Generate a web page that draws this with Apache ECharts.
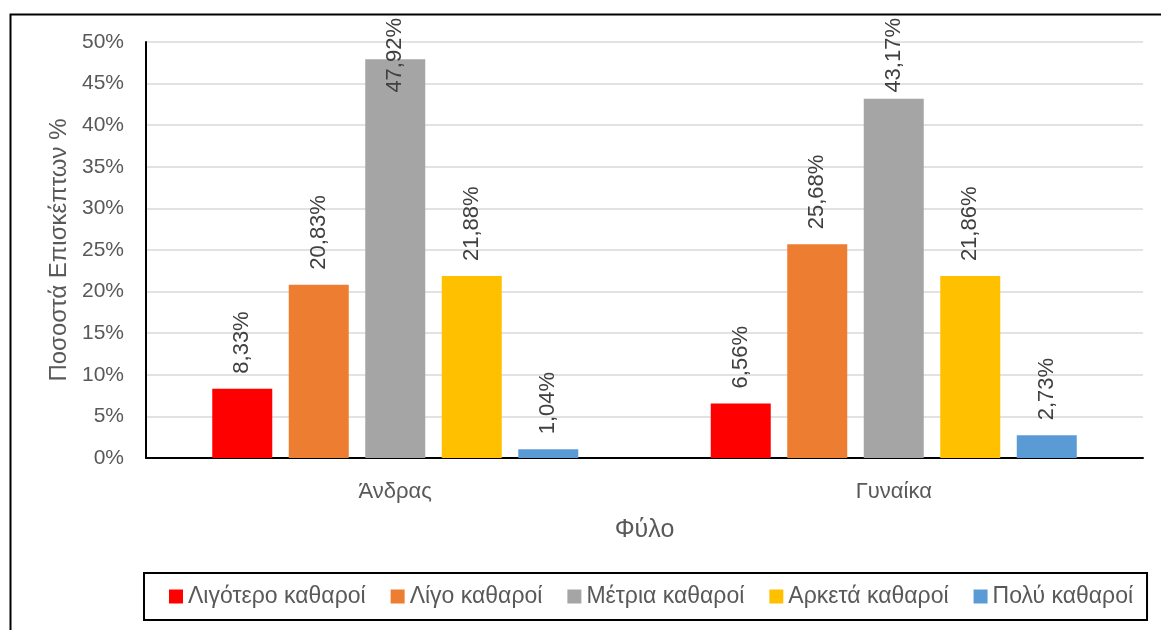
<!DOCTYPE html>
<html>
<head>
<meta charset="utf-8">
<script src="https://cdn.jsdelivr.net/npm/echarts@6/dist/echarts.min.js"></script>
<style>
html,body{margin:0;padding:0;background:#fff;}
#chart{width:1161px;height:630px;}
</style>
</head>
<body>
<div id="chart"></div>
<script>
const categories = ['Άνδρας', 'Γυναίκα'];
const seriesNames = ['Λιγότερο καθαροί', 'Λίγο καθαροί', 'Μέτρια καθαροί', 'Αρκετά καθαροί', 'Πολύ καθαροί'];
const lessClean = [8.33, 6.56];
const littleClean = [20.83, 25.68];
const moderatelyClean = [47.92, 43.17];
const quiteClean = [21.88, 21.86];
const veryClean = [1.04, 2.73];
const colors = ['#FF0000', '#ED7D31', '#A5A5A5', '#FFC000', '#5B9BD5'];
const seriesData = [lessClean, littleClean, moderatelyClean, quiteClean, veryClean];

const FONT = '"Liberation Sans", "DejaVu Sans", sans-serif';
const fmt = v => v.toFixed(2).replace('.', ',') + '%';
const LABEL_DIST = 15;
const LABEL_MIN_TOP = 18;

const chart = echarts.init(document.getElementById('chart'), null, {renderer: 'canvas'});
chart.setOption({
  backgroundColor: '#fff',
  animation: false,
  textStyle: {fontFamily: FONT},
  graphic: [{
    type: 'rect', left: 8, top: 12, silent: true,
    shape: {width: 1200, height: 700},
    style: {fill: 'none', stroke: '#000', lineWidth: 2}
  }],
  grid: {left: 146, right: 18, top: 42, bottom: 172},
  legend: {
    left: 144, top: 573,
    data: seriesNames,
    itemWidth: 14, itemHeight: 14, itemGap: 25,
    icon: 'rect',
    padding: [12, 14, 12, 25],
    borderColor: '#000', borderWidth: 2,
    textStyle: {fontSize: 23, color: '#595959', fontFamily: FONT}
  },
  xAxis: {
    type: 'category', data: categories,
    axisLine: {lineStyle: {color: '#000', width: 2}},
    axisTick: {show: false},
    axisLabel: {fontSize: 22, color: '#595959', margin: 23},
    name: 'Φύλο', nameLocation: 'middle', nameGap: 60,
    nameTextStyle: {fontSize: 25, color: '#595959'}
  },
  yAxis: {
    type: 'value', min: 0, max: 50, interval: 5,
    axisLine: {show: true, lineStyle: {color: '#000', width: 2}},
    axisTick: {show: false},
    splitLine: {lineStyle: {color: '#d9d9d9', width: 1.5}},
    axisLabel: {fontSize: 21, color: '#595959', margin: 22, formatter: '{value}%'},
    name: 'Ποσοστά Επισκέπτων %', nameLocation: 'middle', nameGap: 74,
    nameTextStyle: {fontSize: 24, color: '#595959'}
  },
  series: seriesData.map((d, i) => ({
    type: 'bar', name: seriesNames[i], data: d,
    barWidth: 60, barGap: '27.5%',
    itemStyle: {color: colors[i]},
    label: {
      show: true, position: 'top', rotate: 90, distance: LABEL_DIST,
      align: 'left', verticalAlign: 'middle',
      fontSize: 22, color: '#404040',
      formatter: p => fmt(p.value)
    },
    labelLayout: p => {
      const len = Math.max(p.labelRect.width, p.labelRect.height);
      const top = p.rect.y - LABEL_DIST - len;
      if (top < LABEL_MIN_TOP) {
        return {x: p.rect.x + p.rect.width / 2, y: LABEL_MIN_TOP + len, rotate: 90, align: 'left', verticalAlign: 'middle'};
      }
      return {};
    }
  }))
});
</script>
</body>
</html>
